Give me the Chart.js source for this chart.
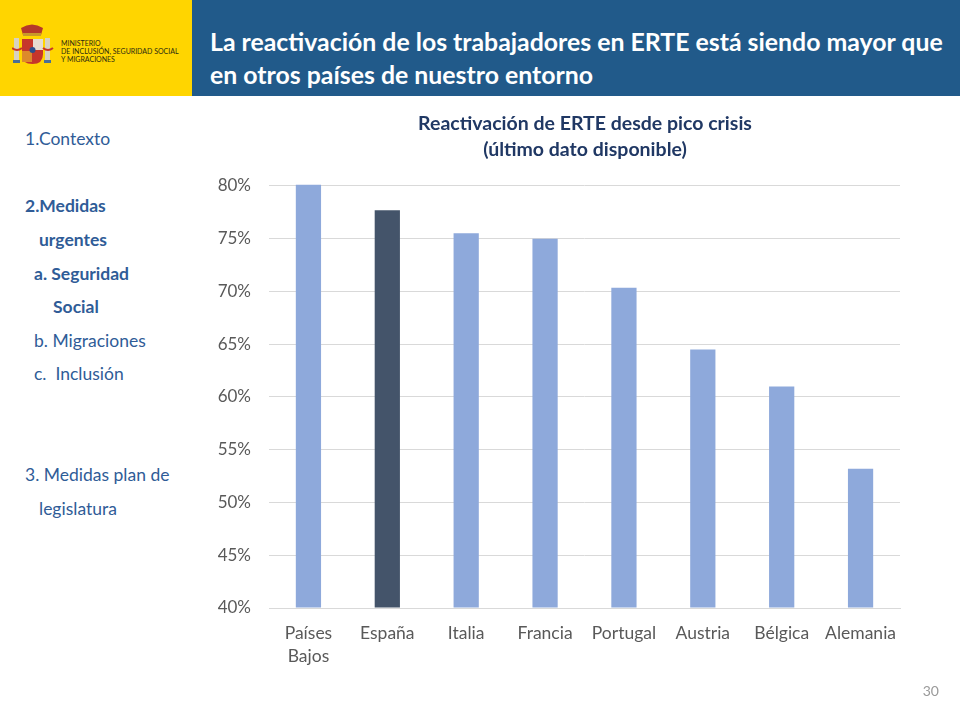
<!DOCTYPE html>
<html lang="es">
<head>
<meta charset="utf-8">
<title>Reactivación de ERTE</title>
<script src="https://cdn.jsdelivr.net/npm/chart.js@4/dist/chart.umd.min.js"></script>
<style>
    html, body { margin: 0; padding: 0; background: #fff; overflow: hidden; }
    body { width: 960px; height: 720px; position: relative; font-family: Lato, "Open Sans", sans-serif; }
    .logo { position: absolute; left: 0; top: 0; width: 192px; height: 96px; background: #FFD500; }
    .logo svg { position: absolute; left: 12px; top: 24px; }
    .logo div { position: absolute; left: 61px; top: 39px; font-size: 7px; line-height: 8px; color: #2b2b10; white-space: nowrap; }
    .banner { position: absolute; left: 192px; top: 0; width: 768px; height: 96px; background: #215A8A; color: #fff;
        font-weight: 700; font-size: 24.85px; line-height: 33px; box-sizing: border-box; padding: 25px 0 0 18px; white-space: nowrap; }
    .nav div { position: absolute; font-size: 17.5px; line-height: 22px; color: #2F5C97; white-space: nowrap; }
    .nav .b { font-weight: 700; }
    #chartCanvas { position: absolute; left: 210px; top: 100px; }
    .page { position: absolute; right: 21px; top: 682px; font-size: 14px; color: #9a9a9a; }
</style>
</head>
<body>
<div class="logo">
    <svg width="42" height="44" viewBox="0 0 42 44">
        <rect x="2" y="14" width="5" height="24" fill="#d8d2c0"/>
        <rect x="33" y="14" width="5" height="24" fill="#d8d2c0"/>
        <rect x="1" y="36" width="7" height="3" fill="#4a6f96"/>
        <rect x="32" y="36" width="7" height="3" fill="#4a6f96"/>
        <path d="M9 4 Q20 -3 31 4 L29 11 L11 11 Z" fill="#b5382a"/>
        <rect x="11" y="9" width="18" height="3" fill="#c89a2a"/>
        <path d="M10 15 H31 V30 Q31 40 20.5 40 Q10 40 10 30 Z" fill="#c6362b"/>
        <rect x="21" y="15" width="10" height="11" fill="#e6dcd0"/>
        <rect x="10" y="27" width="10" height="11" fill="#dd8a2a"/>
        <circle cx="20.5" cy="26" r="3" fill="#2e4f8a"/>
        <path d="M0 24 Q5 28 10 24 M31 24 Q36 28 41 24" stroke="#c6362b" stroke-width="2" fill="none"/>
    </svg>
    <div>MINISTERIO<br>DE INCLUSIÓN, SEGURIDAD SOCIAL<br>Y MIGRACIONES</div>
</div>
<div class="banner">La reactivación de los trabajadores en ERTE está siendo mayor que<br>en otros países de nuestro entorno</div>
<div class="nav">
    <div style="left:25px;top:128px">1.Contexto</div>
    <div class="b" style="left:25px;top:195px">2.Medidas</div>
    <div class="b" style="left:39px;top:229px">urgentes</div>
    <div class="b" style="left:34px;top:263px">a. Seguridad</div>
    <div class="b" style="left:53px;top:296px">Social</div>
    <div style="left:34px;top:330px">b. Migraciones</div>
    <div style="left:34px;top:363px">c.&nbsp; Inclusión</div>
    <div style="left:25px;top:464px">3. Medidas plan de</div>
    <div style="left:39px;top:498px">legislatura</div>
</div>
<canvas id="chartCanvas" width="750" height="600"></canvas>
<div class="page">30</div>
<script>
const categories = [['Países', 'Bajos'], 'España', 'Italia', 'Francia', 'Portugal', 'Austria', 'Bélgica', 'Alemania'];
const reactivation = [80.1, 77.7, 75.5, 75.0, 70.35, 64.5, 61.0, 53.2];
const barColors = ['#8EA9DB', '#44546A', '#8EA9DB', '#8EA9DB', '#8EA9DB', '#8EA9DB', '#8EA9DB', '#8EA9DB'];
const chartTitle = ['Reactivación de ERTE desde pico crisis', '(último dato disponible)'];

const textColor = '#595959';

// Title sits over the plot, not over plot + y labels
const centerTitleOnPlot = {
    id: 'centerTitleOnPlot',
    afterLayout(chart) {
        chart.titleBlock.left = chart.chartArea.left + 1;
    }
};

new Chart(document.getElementById('chartCanvas').getContext('2d'), {
    type: 'bar',
    data: {
        labels: categories,
        datasets: [{
            data: reactivation,
            backgroundColor: barColors,
            barPercentage: 0.32,
            categoryPercentage: 1,
            base: 40,
            clip: false
        }]
    },
    plugins: [centerTitleOnPlot],
    options: {
        responsive: false,
        animation: false,
        layout: { padding: { right: 60, top: 11 } },
        plugins: {
            legend: { display: false },
            tooltip: { enabled: false },
            title: {
                display: true,
                text: chartTitle,
                color: '#203864',
                font: { family: 'Lato', size: 19.5, weight: 'bold', lineHeight: 1.33 },
                padding: { top: 0, bottom: 23 }
            }
        },
        scales: {
            x: {
                grid: { display: false, drawTicks: false },
                border: { color: '#d9d9d9' },
                ticks: {
                    color: textColor,
                    font: { family: 'Lato', size: 17.5, lineHeight: 1.3 },
                    padding: 14,
                    maxRotation: 0,
                    autoSkip: false
                },
                afterFit: scale => { scale.height = 92; }
            },
            y: {
                min: 40,
                max: 80,
                grid: { color: '#d9d9d9', drawTicks: false },
                border: { display: false },
                ticks: {
                    stepSize: 5,
                    color: textColor,
                    font: { family: 'Lato', size: 17 },
                    padding: 18,
                    callback: value => value + '%'
                },
                afterFit: scale => { scale.width = 59; }
            }
        }
    }
});
</script>
</body>
</html>
